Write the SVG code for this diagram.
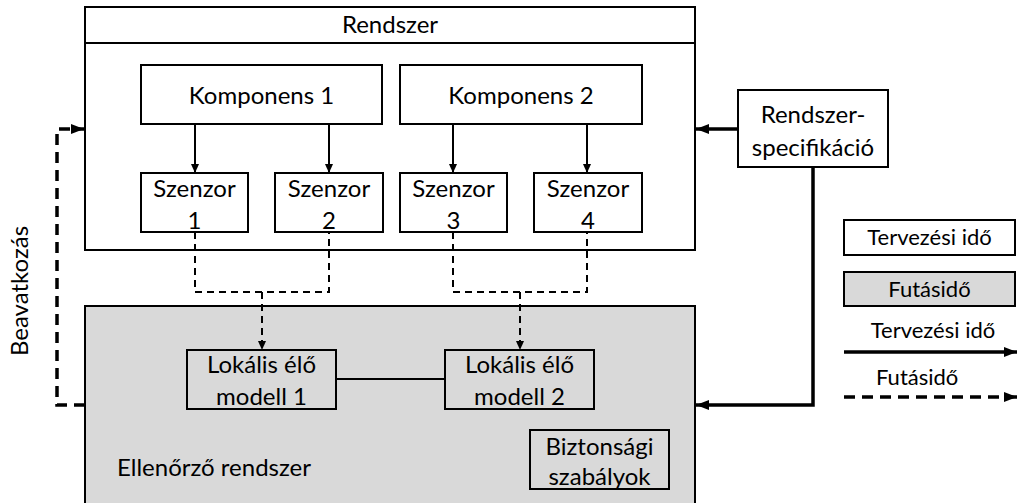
<svg xmlns="http://www.w3.org/2000/svg" width="1018" height="503" viewBox="0 0 1018 503">
  <style>
    text { font-family: Lato, "Liberation Sans", sans-serif; font-size: 24px; fill: #000; text-anchor: middle; }
    .legend { font-size: 22px; }
    .box { fill: #fff; stroke: #000; stroke-width: 2; }
    .gray { fill: #d9d9d9; stroke: #000; stroke-width: 2; }
    .thin { fill: none; stroke: #000; stroke-width: 2; }
    .thick { fill: none; stroke: #000; stroke-width: 3.5; }
    .dash { fill: none; stroke: #000; stroke-width: 2; stroke-dasharray: 7 5; }
    .dashthick { fill: none; stroke: #000; stroke-width: 3.5; stroke-dasharray: 11 7; }
  </style>
  <defs>
    <marker id="arrowSmall" markerUnits="userSpaceOnUse" markerWidth="10" markerHeight="10" refX="9" refY="5" orient="auto">
      <path d="M0,1 L9,5 L0,9 Z" fill="#000"/>
    </marker>
    <marker id="arrowLarge" markerUnits="userSpaceOnUse" markerWidth="14" markerHeight="12" refX="13" refY="6" orient="auto">
      <path d="M0,1 L13,6 L0,11 Z" fill="#000"/>
    </marker>
  </defs>

  <rect width="1018" height="503" fill="#fff"/>

  <!-- System container -->
  <g id="rendszer">
    <rect class="box" x="85" y="7" width="610" height="243"/>
    <line class="thin" x1="85" y1="43" x2="695" y2="43"/>
    <text x="390" y="33">Rendszer</text>
  </g>

  <g id="komponens1">
    <rect class="box" x="141" y="65" width="241" height="59"/>
    <text x="261.5" y="104">Komponens 1</text>
  </g>
  <g id="komponens2">
    <rect class="box" x="400" y="65" width="242" height="59"/>
    <text x="521" y="104">Komponens 2</text>
  </g>

  <g id="szenzor1">
    <rect class="box" x="141" y="173" width="107" height="59"/>
    <text x="194.5" y="197">Szenzor</text>
    <text x="194.5" y="229">1</text>
  </g>
  <g id="szenzor2">
    <rect class="box" x="275" y="173" width="108" height="59"/>
    <text x="329" y="197">Szenzor</text>
    <text x="329" y="229">2</text>
  </g>
  <g id="szenzor3">
    <rect class="box" x="400" y="173" width="107" height="59"/>
    <text x="453.5" y="197">Szenzor</text>
    <text x="453.5" y="229">3</text>
  </g>
  <g id="szenzor4">
    <rect class="box" x="534" y="173" width="108" height="59"/>
    <text x="588" y="197">Szenzor</text>
    <text x="588" y="229">4</text>
  </g>

  <!-- Monitoring system -->
  <g id="ellenorzo">
    <rect class="gray" x="85" y="306" width="610" height="205"/>
    <text x="117" y="476" style="text-anchor:start">Ellenőrző rendszer</text>
  </g>
  <g id="lokalis1">
    <rect class="gray" x="187" y="350" width="149" height="59"/>
    <text x="261.5" y="373">Lokális élő</text>
    <text x="261.5" y="405">modell 1</text>
  </g>
  <g id="lokalis2">
    <rect class="gray" x="445" y="350" width="149" height="59"/>
    <text x="519.5" y="373">Lokális élő</text>
    <text x="519.5" y="405">modell 2</text>
  </g>
  <g id="biztonsagi">
    <rect class="gray" x="530" y="430" width="139" height="59"/>
    <text x="599.5" y="455">Biztonsági</text>
    <text x="599.5" y="485">szabályok</text>
  </g>

  <g id="specifikacio">
    <rect class="box" x="738" y="90" width="150" height="77"/>
    <text x="813" y="123">Rendszer-</text>
    <text x="813" y="156">specifikáció</text>
  </g>

  <!-- Legend -->
  <g id="legend">
    <rect class="box" x="844" y="220" width="171" height="35"/>
    <text class="legend" x="929.5" y="245">Tervezési idő</text>
    <rect class="gray" x="844" y="272" width="171" height="34"/>
    <text class="legend" x="929.5" y="297">Futásidő</text>
    <text class="legend" x="933" y="338">Tervezési idő</text>
    <text class="legend" x="876" y="385" style="text-anchor:start">Futásidő</text>
    <path class="thick" d="M844,352 H1017" marker-end="url(#arrowLarge)"/>
    <path class="dashthick" d="M844,397 H1017" marker-end="url(#arrowLarge)"/>
  </g>

  <!-- Connectors -->
  <g id="connectors">
    <path class="thin" d="M195,124 V173" marker-end="url(#arrowSmall)"/>
    <path class="thin" d="M329,124 V173" marker-end="url(#arrowSmall)"/>
    <path class="thin" d="M453,124 V173" marker-end="url(#arrowSmall)"/>
    <path class="thin" d="M587,124 V173" marker-end="url(#arrowSmall)"/>

    <path class="dash" d="M195,232 V292 H329 V232"/>
    <path class="dash" d="M262,292 V350" marker-end="url(#arrowSmall)"/>
    <path class="dash" d="M453,232 V292 H587 V232"/>
    <path class="dash" d="M520,292 V350" marker-end="url(#arrowSmall)"/>

    <line class="thin" x1="336" y1="379" x2="445" y2="379"/>

    <path class="thick" d="M738,129 H696" marker-end="url(#arrowLarge)"/>
    <path class="thick" d="M813,167 V405 H696" marker-end="url(#arrowLarge)"/>

    <path class="dashthick" d="M85,405 H57 V129 H84" marker-end="url(#arrowLarge)"/>
  </g>

  <text transform="translate(28,291) rotate(-90)">Beavatkozás</text>
</svg>
